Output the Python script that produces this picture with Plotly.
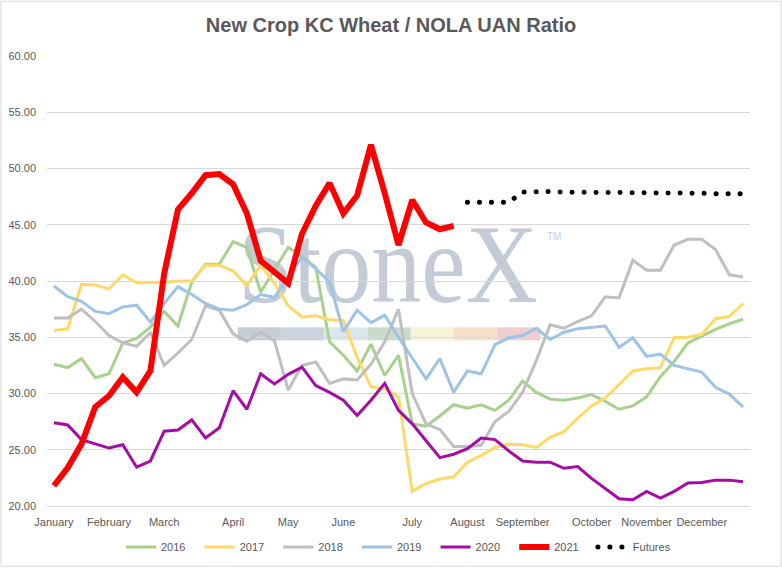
import base64
import plotly.graph_objects as go

# weekly readings, first week of January to mid December
y2016 = [32.6, 32.3, 33.1, 31.4, 31.75, 34.5, 34.9, 35.9, 37.3, 36.0,
         39.9, 41.5, 41.5, 43.5, 43.0, 39.0, 41.0, 43.0, 42.2, 41.2,
         34.6, 33.4, 32.0, 34.4, 31.6, 33.4, 27.3, 27.1, 28.0, 29.0,
         28.7, 29.0, 28.5, 29.4, 31.1, 30.1, 29.5, 29.4, 29.6, 29.9,
         29.3, 28.6, 28.9, 29.7, 31.5, 32.85, 34.5, 35.1, 35.7, 36.2, 36.6]
y2017 = [35.6, 35.75, 39.7, 39.65, 39.3, 40.55, 39.85, 39.85, 39.9, 40.0,
         40.0, 41.4, 41.4, 40.9, 39.6, 41.4, 39.8, 37.8, 36.8, 36.9,
         36.55, 36.5, 33.2, 30.6, 30.4, 29.7, 21.3, 22.0, 22.4, 22.6,
         23.9, 24.5, 25.2, 25.5, 25.45, 25.2, 26.1, 26.6, 27.8, 28.9,
         29.6, 30.8, 32.0, 32.2, 32.3, 34.95, 35.0, 35.25, 36.65, 36.85, 38.0]
y2018 = [36.7, 36.7, 37.5, 36.4, 35.15, 34.5, 34.2, 35.4, 32.5, 33.6,
         34.8, 37.8, 37.4, 35.3, 34.65, 35.45, 34.7, 30.3, 32.5, 32.8,
         30.9, 31.3, 31.2, 32.6, 34.6, 37.5, 30.0, 27.3, 26.8, 25.3,
         25.3, 25.4, 27.5, 28.4, 30.1, 32.95, 36.1, 35.8, 36.4, 36.9,
         38.6, 38.5, 41.85, 40.95, 40.95, 43.2, 43.7, 43.7, 42.8, 40.55, 40.35]
y2019 = [39.55, 38.6, 38.2, 37.3, 37.1, 37.7, 37.85, 36.35, 38.0, 39.5,
         38.8, 38.0, 37.5, 37.4, 37.9, 38.8, 38.55, 40.35, 42.1, 41.1,
         39.9, 35.5, 37.4, 36.3, 36.95, 35.0, 33.15, 31.3, 33.1, 30.1,
         32.0, 31.75, 34.35, 34.95, 35.15, 35.8, 34.8, 35.45, 35.75, 35.85,
         36.0, 34.1, 34.95, 33.3, 33.5, 32.5, 32.2, 31.9, 30.55, 29.95, 28.8]
y2020 = [27.4, 27.2, 25.9, 25.5, 25.15, 25.45, 23.45, 24.0, 26.65, 26.75,
         27.65, 26.05, 26.95, 30.25, 28.6, 31.75, 30.85, 31.7, 32.35, 30.7,
         30.1, 29.4, 28.05, 29.4, 30.9, 28.5, 27.3, 25.8, 24.3, 24.6,
         25.1, 26.05, 25.9, 24.9, 24.0, 23.9, 23.9, 23.35, 23.5, 22.45,
         21.55, 20.65, 20.55, 21.3, 20.7, 21.3, 22.05, 22.1, 22.3, 22.3, 22.15]
y2021 = [21.8, 23.4, 25.5, 28.8, 29.8, 31.45, 30.1, 32.0, 40.65, 46.35,
         47.8, 49.4, 49.5, 48.6, 46.0, 41.8, 40.8, 39.8, 44.2, 46.7,
         48.7, 46.0, 47.6, 52.1, 47.8, 43.2, 47.2, 45.2, 44.6, 44.9]
futures = [47.0, 47.0, 47.0, 47.0, 47.9, 47.95, 47.95, 47.9, 47.9, 47.85,
           47.85, 47.8, 47.8, 47.8, 47.8, 47.8, 47.8, 47.8, 47.75, 47.75, 47.75]

months = ["January", "February", "March", "April", "May", "June", "July",
          "August", "September", "October", "November", "December"]
month_weeks = [0, 4, 8, 13, 17, 21, 26, 30, 34, 39, 43, 47]

weeks = list(range(len(y2016)))
futures_weeks = weeks[len(y2021):]

TXT = "#595959"
GRID = "#d9d9d9"
FONT = "Liberation Sans, Arial, sans-serif"
PAD = "\u00a0\u00a0\u00a0"  # widen the short legend entries a little

fig = go.Figure()
series = [
    ("2016", y2016, "#a9d18e", 3),
    ("2017", y2017, "#ffd966", 3),
    ("2018", y2018, "#bfbfbf", 3),
    ("2019", y2019, "#9dc3e6", 3),
    ("2020", y2020, "#a50ca5", 3),
    ("2021", y2021, "#ff0000", 6),
]
for name, vals, color, width in series:
    fig.add_trace(go.Scatter(x=weeks[:len(vals)], y=vals, name=name + PAD, mode="lines",
                             line=dict(color=color, width=width)))
# round dots: tiny dashes, round caps set after drawing (see post_script)
fig.add_trace(go.Scatter(x=futures_weeks, y=futures, name="Futures", mode="lines",
                         line=dict(color="black", width=5, dash="0.1px,11.9px")))

# StoneX watermark behind the lines
bar_colors = ["#c4ccd6", "#c9d4e0", "#dbe7f0", "#c9dcc9", "#f5f3d8", "#f6e0c9", "#efcece"]
rects = "".join(
    f'<rect x="{2 + i * 43.2:.1f}" y="105" width="43.2" height="13" fill="{c}"/>'
    for i, c in enumerate(bar_colors))
svg = ('<svg xmlns="http://www.w3.org/2000/svg" width="330" height="120" viewBox="0 0 330 120">'
       '<text x="2" y="80" font-family="Liberation Serif, DejaVu Serif, serif" font-size="112" '
       'fill="#c3ccd6" textLength="300" lengthAdjust="spacingAndGlyphs">StoneX</text>'
       '<text x="311" y="18" font-family="Liberation Sans, Arial, sans-serif" font-size="10" '
       'fill="#c3ccd6">TM</text>' + rects + '</svg>')
src = "data:image/svg+xml;base64," + base64.b64encode(svg.encode()).decode()
fig.add_layout_image(dict(source=src, xref="paper", yref="paper", x=0.2688, y=0.6304,
                          sizex=0.4694, sizey=0.2667, xanchor="left", yanchor="top",
                          sizing="stretch", layer="below"))

# light chart border
fig.add_shape(type="rect", xref="paper", yref="paper", x0=-0.0655, x1=1.0441,
              y0=-0.1338, y1=1.1216, line=dict(color=GRID, width=1))

fig.update_layout(
    width=782, height=568,
    margin=dict(l=47, r=32, t=56, b=62, autoexpand=False),
    paper_bgcolor="white", plot_bgcolor="rgba(0,0,0,0)",
    font=dict(family=FONT, size=11, color=TXT),
    title=dict(text="New Crop KC Wheat / NOLA UAN Ratio", x=0.5, xref="container",
               y=1 - 25 / 568, yref="container", xanchor="center", yanchor="middle",
               font=dict(family=FONT, size=20, color=TXT, weight="bold")),
    xaxis=dict(range=[-0.5, len(weeks) - 0.5], tickvals=month_weeks, ticktext=months,
               showgrid=False, zeroline=False, showline=True, linecolor=GRID,
               ticks="", ticklabelstandoff=6, automargin=False),
    yaxis=dict(range=[20, 60], tick0=20, dtick=5, tickformat=".2f", gridcolor=GRID,
               zeroline=False, showline=False, ticks="", ticklabelstandoff=10,
               automargin=False),
    legend=dict(orientation="h", x=0.5, xanchor="center", xref="paper",
                y=1 - 547 / 568, yref="container", yanchor="middle",
                font=dict(size=11, color=TXT)),
    showlegend=True,
)

post = """
document.body.style.margin = '0';
var gd = document.getElementsByClassName('plotly-graph-div')[0];
function roundDots() {
  document.querySelectorAll('path.js-line, g.legendlines path').forEach(function (p) {
    if ((p.style.strokeDasharray || '').indexOf('0.1px') >= 0) { p.style.strokeLinecap = 'round'; }
  });
}
roundDots();
gd.on('plotly_afterplot', roundDots);
"""
fig.write_html("out.html", post_script=post, config={"displayModeBar": False})
